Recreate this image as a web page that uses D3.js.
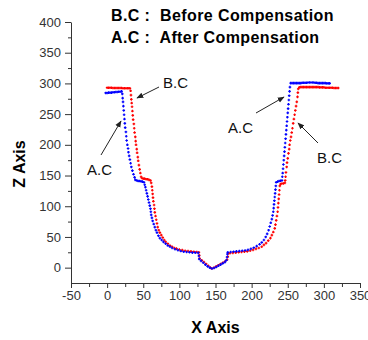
<!DOCTYPE html>
<html>
<head>
<meta charset="utf-8">
<script src="https://cdn.jsdelivr.net/npm/d3@7"></script>
<style>
  body { margin: 0; background: #fff; }
  svg { font-family: "Liberation Sans", Arial, sans-serif; }
  .axis path, .axis line { stroke: #333; }
  .axis text { fill: #333; font-size: 13px; }
</style>
</head>
<body>
<div id="chart"></div>
<script>
// B.C : before compensation (red)
const beforeX = [
  0, 2, 4, 6, 8, 10, 12, 14, 16, 18, 20, 22, 24, 26, 28, 30, 31.5,
  32.5, 33, 33.5, 34, 34.5, 35, 35.5, 36, 37, 37.5, 38, 39, 39.5, 40, 41, 41.5, 42.5, 43, 44, 45, 46, 47,
  48, 50, 52, 54, 56, 58, 60,
  61, 62, 62.5, 63, 63.5, 64, 65, 65.5, 66, 67, 68, 69, 70, 71.5, 73, 75, 77, 79, 81, 84, 87, 90, 93, 96,
  100, 104, 108, 112, 116, 120, 124, 127,
  127.5, 128, 131, 134, 137, 140, 143, 145, 148, 151, 154, 157, 160, 163, 166,
  167, 167.5, 170, 174, 178, 182, 186, 190, 194, 198, 202, 206, 210, 214, 217, 220, 223, 226, 228, 230,
  232, 233, 234, 235, 236, 236.5, 237, 237.5, 238, 238.5, 239,
  240, 242, 244, 246, 246.5, 247,
  247.5, 248.5, 249, 250, 251, 252, 252.5, 253.5, 254.5, 255.5, 256.5, 257.5, 258.5, 259.5, 260.5, 261.5, 262.5, 263.5, 264, 264.5,
  266, 268, 270, 272, 274, 276, 278, 280, 282, 284, 286, 288, 290, 292, 294, 296, 298, 300, 302, 304, 306, 308, 310, 312, 314, 316, 318, 320
];
const beforeZ = [
  293, 293, 293, 293, 292.5, 292.5, 292.5, 292.5, 292.5, 292.5, 292.5, 292, 292, 292, 292, 292, 292,
  288, 281, 274, 268, 262, 255, 248, 241, 234, 227, 220, 213, 206, 200, 193, 187, 180, 174, 167, 160, 154, 148,
  146, 145, 145, 144, 144, 143, 142,
  138, 132, 126, 120, 114, 108, 102, 96, 90, 84, 78, 72, 66, 61, 57, 53, 49, 45, 42, 39, 36, 34, 32, 31,
  29.5, 28.5, 27.5, 27, 26.5, 26, 25.5, 25,
  20, 15, 12, 9, 6, 3, 0, -1.5, 0, 2, 4, 6, 8, 10, 13,
  18, 23, 23.5, 24, 24.5, 25, 25.5, 26, 26.5, 27.5, 29, 30.5, 32, 34, 37, 40, 44, 48, 53, 58,
  64, 70, 77, 84, 91, 98, 105, 112, 119, 126, 133,
  136, 137, 137, 138, 142, 148,
  155, 164, 171, 178, 186, 193, 200, 207, 213, 220, 227, 235, 242, 249, 256, 263, 270, 278, 285, 291,
  293.5, 294, 294, 294, 294, 294, 294, 294, 294, 294, 294, 294, 294, 294, 293.5, 293.5, 293.5, 293.5, 293, 293, 293, 293, 293, 293, 292.5, 292.5, 292.5, 292.5
];

// A.C : after compensation (blue)
const afterX = [
  -2, 0, 2, 4, 6, 8, 10, 12, 14, 16, 18, 20,
  21, 21.5, 22, 22.5, 23, 23.5, 24, 24.5, 25, 26, 26.5, 27, 28, 29, 29.5, 30.5, 31.5, 32.5, 33.5, 35, 36.5, 38,
  39, 41, 43, 45, 47, 49, 51, 52,
  53, 54, 55, 56, 57, 58, 59, 60, 60.5, 61, 62, 63, 64.5, 66, 67.5, 69, 71, 73, 75.5, 78, 81, 84, 87, 90, 94, 98,
  102, 106, 110, 114, 118, 122, 126,
  127, 127.5, 130, 133, 136, 139, 142, 145, 148, 151, 154, 157, 160, 163, 165,
  166, 166.5, 167, 171, 175, 179, 183, 187, 191, 195, 199, 203, 207, 211, 214, 217, 219.5, 221.5, 223.5, 225,
  226.5, 228, 229, 230, 230.5, 231, 231.5, 232, 232.5, 233, 233.5, 234,
  236, 238, 240, 242,
  242.5, 243, 243.5, 244, 244.5, 245, 245.5, 246, 246.5, 247, 247.5, 248, 248.5, 249, 249.5, 250, 250.5, 251, 251.5, 252, 252.5, 253,
  254, 256, 258, 260, 262, 264, 266, 268, 270, 272, 274, 276, 278, 280, 282, 284, 286, 288, 290, 292, 294, 296, 298, 300, 302, 304, 306, 308
];
const afterZ = [
  284.5, 284.5, 285, 285, 285, 285.5, 285.5, 286, 286, 286.5, 286.5, 287,
  283, 276, 270, 263, 256, 249, 242, 235, 228, 221, 214, 207, 200, 194, 188, 182, 176, 170, 164, 158, 152, 147,
  143, 142, 141, 141, 140.5, 140, 139, 135,
  131, 126, 121, 116, 111, 106, 101, 96, 91, 86, 81, 76, 71, 66, 61, 57, 52, 48, 45, 42, 39, 36, 34, 32, 30, 28.5,
  27, 26, 25.5, 25, 24.5, 24.5, 24,
  19, 14, 11, 8, 5, 2, 0, -1.5, -0.5, 1, 3, 5, 7, 9, 12,
  17, 22, 25, 25.5, 26, 26.5, 27, 27.5, 28, 29, 30.5, 32.5, 35, 38, 41, 45, 50, 55, 61, 67,
  73, 79, 85, 91, 97, 103, 109, 115, 121, 127, 133, 139,
  140, 141, 141.5, 142,
  148, 154, 161, 168, 175, 182, 189, 196, 203, 210, 217, 224, 231, 238, 245, 252, 259, 266, 273, 280, 287, 294,
  300.5, 300.5, 300.5, 300.5, 300.5, 300.5, 300.5, 300.5, 301, 301, 301, 301, 301.5, 301.5, 301.5, 301.5, 301.5, 301, 301, 300.5, 300.5, 300.5, 300.5, 300.5, 300.5, 300, 300, 300
];

const xTicks = [-50, 0, 50, 100, 150, 200, 250, 300, 350];
const zTicks = [0, 50, 100, 150, 200, 250, 300, 350, 400];

const width = 368, height = 340;
const margin = { top: 22, right: 8, bottom: 57, left: 71 };

const svg = d3.select('#chart').append('svg')
  .attr('width', width)
  .attr('height', height);

const x = d3.scaleLinear().domain([-50, 350]).range([margin.left, width - margin.right]);
const y = d3.scaleLinear().domain([-25, 400]).range([height - margin.bottom, margin.top]);

// minor ticks first, then major ticks with labels
svg.append('g')
  .attr('class', 'axis')
  .attr('transform', `translate(0,${height - margin.bottom})`)
  .call(d3.axisBottom(x).tickValues(d3.range(-25, 350, 50)).tickSize(4).tickFormat(''))
  .call(g => g.select('.domain').remove());
svg.append('g')
  .attr('class', 'axis')
  .attr('transform', `translate(0,${height - margin.bottom})`)
  .call(d3.axisBottom(x).tickValues(xTicks).tickSize(5).tickSizeOuter(0).tickPadding(3)
    .tickFormat(d => String(d)));

svg.append('g')
  .attr('class', 'axis')
  .attr('transform', `translate(${margin.left},0)`)
  .call(d3.axisLeft(y).tickValues(d3.range(25, 400, 50)).tickSize(3).tickFormat(''))
  .call(g => g.select('.domain').remove());
svg.append('g')
  .attr('class', 'axis')
  .attr('transform', `translate(${margin.left},0)`)
  .call(d3.axisLeft(y).tickValues(zTicks).tickSize(6).tickSizeOuter(0).tickPadding(4)
    .tickFormat(d => String(d)));

// axis titles
svg.append('text')
  .attr('x', (margin.left + width - margin.right) / 2)
  .attr('y', 333)
  .attr('text-anchor', 'middle')
  .style('font-size', '16px')
  .style('font-weight', 'bold')
  .text('X Axis');

svg.append('text')
  .attr('transform', 'translate(25,164) rotate(-90)')
  .attr('text-anchor', 'middle')
  .style('font-size', '16px')
  .style('font-weight', 'bold')
  .text('Z Axis');

// legend text
svg.append('text')
  .attr('x', 111).attr('y', 21)
  .style('font-size', '16px').style('font-weight', 'bold')
  .style('letter-spacing', '0.4px')
  .attr('xml:space', 'preserve')
  .text('B.C :  Before Compensation');
svg.append('text')
  .attr('x', 111).attr('y', 43)
  .style('font-size', '16px').style('font-weight', 'bold')
  .style('letter-spacing', '0.4px')
  .attr('xml:space', 'preserve')
  .text('A.C :  After Compensation');

// small crosses
const plus = 'M-1.3,0H1.3M0,-1.3V1.3';
function drawSeries(xs, zs, color) {
  svg.append('g')
    .selectAll('path')
    .data(xs.map((d, i) => [d, zs[i]]))
    .enter()
    .append('path')
    .attr('d', plus)
    .attr('transform', d => `translate(${x(d[0])},${y(d[1])})`)
    .attr('stroke', color)
    .attr('stroke-width', 1.2)
    .attr('fill', 'none');
}
drawSeries(beforeX, beforeZ, '#ff0000');
drawSeries(afterX, afterZ, '#0000ff');

// annotations with arrows
svg.append('defs').append('marker')
  .attr('id', 'head')
  .attr('viewBox', '0 0 10 10')
  .attr('refX', 9).attr('refY', 5)
  .attr('markerWidth', 7).attr('markerHeight', 7)
  .attr('orient', 'auto')
  .append('path')
  .attr('d', 'M0,1L10,5L0,9Z')
  .attr('fill', '#222');

const notes = [
  { label: 'B.C', tx: 163, ty: 88, x1: 159, y1: 87, x2: 137, y2: 98 },
  { label: 'A.C', tx: 87, ty: 175, x1: 101, y1: 155, x2: 121, y2: 121 },
  { label: 'A.C', tx: 228, ty: 133, x1: 256, y1: 113, x2: 284, y2: 97 },
  { label: 'B.C', tx: 317, ty: 163, x1: 318, y1: 143, x2: 298, y2: 123 }
];
notes.forEach(n => {
  svg.append('line')
    .attr('x1', n.x1).attr('y1', n.y1)
    .attr('x2', n.x2).attr('y2', n.y2)
    .attr('stroke', '#222')
    .attr('stroke-width', 1)
    .attr('marker-end', 'url(#head)');
  svg.append('text')
    .attr('x', n.tx).attr('y', n.ty)
    .style('font-size', '15px')
    .style('fill', '#111')
    .text(n.label);
});
</script>
</body>
</html>
